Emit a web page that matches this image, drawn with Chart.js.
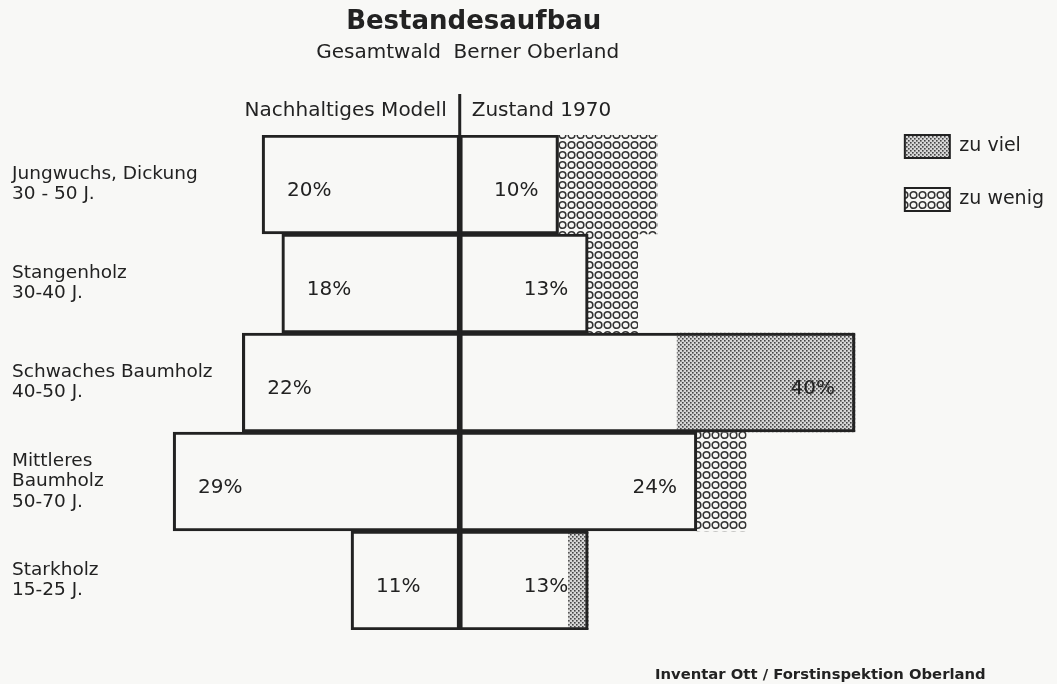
<!DOCTYPE html>
<html>
<head>
<meta charset="utf-8">
<script src="https://cdn.jsdelivr.net/npm/chart.js@4"></script>
<style>
  body { margin: 0; background: #f8f8f6; }
  #wrap { width: 1057px; height: 684px; }
</style>
</head>
<body>
<div id="wrap"><canvas id="bestandChart" width="1057" height="684"></canvas></div>
<script>
const categories = [
  ["Jungwuchs, Dickung", "30 - 50 J."],
  ["Stangenholz", "30-40 J."],
  ["Schwaches Baumholz", "40-50 J."],
  ["Mittleres", "Baumholz", "50-70 J."],
  ["Starkholz", "15-25 J."],
];
const modell = [20, 18, 22, 29, 11];       // Nachhaltiges Modell
const zustand1970 = [10, 13, 40, 24, 13];  // Zustand 1970

const ink = "#222";
const font = "'DejaVu Sans', sans-serif";

// fill patterns
function makePattern(w, h, draw) {
  const c = document.createElement("canvas");
  c.width = w;
  c.height = h;
  draw(c.getContext("2d"));
  return c.getContext("2d").createPattern(c, "repeat");
}
const zuVielFill = makePattern(4, 4, (p) => {
  p.fillStyle = "#d6d6d6";
  p.fillRect(0, 0, 4, 4);
  p.fillStyle = "#444";
  p.fillRect(0, 0, 1.6, 1.6);
  p.fillRect(2, 2, 1.6, 1.6);
});
const zuWenigFill = makePattern(9, 10, (p) => {
  p.fillStyle = "#f8f8f6";
  p.fillRect(0, 0, 9, 10);
  p.strokeStyle = "#333";
  p.lineWidth = 1.6;
  p.beginPath();
  p.arc(4.5, 5, 3.3, 0, Math.PI * 2);
  p.stroke();
});

const zuViel = zustand1970.map((v, i) => (v > modell[i] ? [modell[i], v] : null));
const zuWenig = zustand1970.map((v, i) => (modell[i] > v ? [v, modell[i]] : null));

const annotate = {
  id: "annotate",
  afterDatasetsDraw(chart) {
    const { ctx, chartArea, scales } = chart;
    const x0 = scales.x.getPixelForValue(0);
    ctx.save();
    ctx.strokeStyle = ink;
    ctx.lineWidth = 3;
    ctx.beginPath();
    ctx.moveTo(x0, 94);
    ctx.lineTo(x0, chartArea.bottom);
    ctx.stroke();

    ctx.fillStyle = ink;
    ctx.textBaseline = "middle";
    ctx.font = "20px " + font;
    chart.getDatasetMeta(0).data.forEach((bar, i) => {
      ctx.textAlign = "left";
      ctx.fillText(modell[i] + "%", Math.min(bar.x, bar.base) + 25, bar.y + 6);
    });
    chart.getDatasetMeta(1).data.forEach((bar, i) => {
      ctx.textAlign = "right";
      ctx.fillText(zustand1970[i] + "%", Math.max(bar.x, bar.base) - 20, bar.y + 6);
    });

    ctx.textAlign = "center";
    ctx.font = "bold 26px " + font;
    ctx.fillText("Bestandesaufbau", x0 + 14, 22);
    ctx.font = "20px " + font;
    ctx.fillText("Gesamtwald  Berner Oberland", x0 + 8, 53);
    ctx.textAlign = "right";
    ctx.fillText("Nachhaltiges Modell", x0 - 13, 111);
    ctx.textAlign = "left";
    ctx.fillText("Zustand 1970", x0 + 12, 111);
    ctx.font = "bold 14.8px " + font;
    ctx.fillText("Inventar Ott / Forstinspektion Oberland", 655, 675);
    ctx.restore();
  },
};

const ctx = document.getElementById("bestandChart").getContext("2d");
const bestandChart = new Chart(ctx, {
  type: "bar",
  data: {
    labels: categories,
    datasets: [
      {
        label: "Nachhaltiges Modell",
        data: modell.map((v) => [-v, 0]),
        backgroundColor: "rgba(0,0,0,0)",
        borderColor: ink,
        borderWidth: 2.5,
      },
      {
        label: "Zustand 1970",
        data: zustand1970.map((v) => [0, v]),
        backgroundColor: "rgba(0,0,0,0)",
        borderColor: ink,
        borderWidth: 2.5,
      },
      {
        label: "zu viel",
        data: zuViel,
        backgroundColor: zuVielFill,
        borderWidth: 0,
      },
      {
        label: "zu wenig",
        data: zuWenig,
        backgroundColor: zuWenigFill,
        borderWidth: 0,
      },
    ],
  },
  options: {
    responsive: false,
    animation: false,
    indexAxis: "y",
    layout: { padding: { top: 105, left: 12, right: 3, bottom: 54 } },
    datasets: {
      bar: {
        grouped: false,
        categoryPercentage: 1,
        barPercentage: 1,
        borderSkipped: false,
      },
    },
    plugins: {
      tooltip: { enabled: false },
      legend: {
        position: "right",
        align: "start",
        labels: {
          boxWidth: 45,
          boxHeight: 23,
          padding: 30,
          color: ink,
          font: { family: font, size: 19 },
          generateLabels: (chart) =>
            Chart.defaults.plugins.legend.labels
              .generateLabels(chart)
              .filter((l) => l.datasetIndex >= 2)
              .map((l) => ({ ...l, strokeStyle: ink, lineWidth: 2 })),
        },
      },
    },
    scales: {
      x: {
        position: "top",
        min: -45.3,
        max: 42,
        grid: { display: false },
        border: { display: false },
        ticks: { display: false },
        afterFit: (s) => { s.height = 30; },
      },
      y: {
        grid: { display: false },
        border: { display: false },
        ticks: {
          mirror: true,
          padding: 0,
          color: ink,
          font: { family: font, size: 18.5, lineHeight: 1.1 },
        },
        afterFit: (s) => { s.width = 0; },
      },
    },
  },
  plugins: [annotate],
});
</script>
</body>
</html>
